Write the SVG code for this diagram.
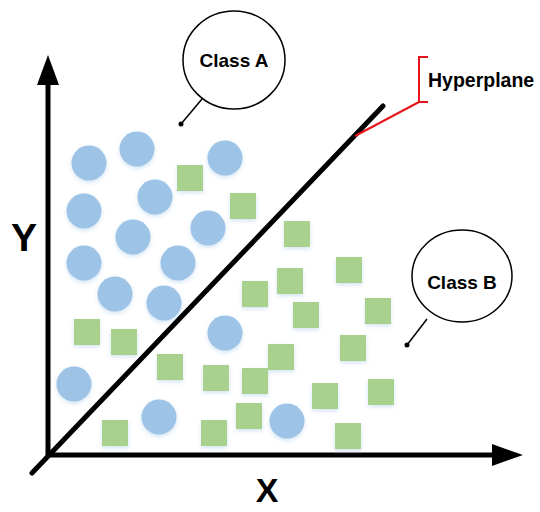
<svg xmlns="http://www.w3.org/2000/svg" width="540" height="512" viewBox="0 0 540 512">
  <defs>
    <filter id="glow" x="-30%" y="-30%" width="160%" height="170%">
      <feDropShadow dx="0" dy="2" stdDeviation="2" flood-color="#9DC3E6" flood-opacity="0.45"/>
    </filter>
  </defs>
  <style>
    .c { fill: #9DC3E6; }
    .s { fill: #A9D18E; }
    .axis { stroke: #000; stroke-width: 5; fill: none; }
    .lbl { font-family: "Liberation Sans", Arial, sans-serif; font-weight: bold; fill: #000; }
    .callout { fill: #fff; stroke: #000; stroke-width: 1.5; }
    .ptr { stroke: #000; stroke-width: 1.5; fill: none; }
    .red { stroke: #E8141B; stroke-width: 2; fill: none; }
  </style>
  <rect width="540" height="512" fill="#fff"/>

  <g id="axes">
    <line class="axis" x1="48" y1="456" x2="48" y2="82"/>
    <polygon points="48,55 37,85 59,85" fill="#000"/>
    <line class="axis" x1="46" y1="455" x2="495" y2="455"/>
    <polygon points="523,455 492,444 492,466" fill="#000"/>
    <text class="lbl" x="24" y="251" font-size="39" text-anchor="middle">Y</text>
    <text class="lbl" x="267" y="502" font-size="34" text-anchor="middle">X</text>
  </g>

  <g id="classA-points" filter="url(#glow)">
    <circle class="c" cx="89" cy="163" r="17.5"/>
    <circle class="c" cx="137" cy="149" r="17.5"/>
    <circle class="c" cx="225" cy="158" r="17.5"/>
    <circle class="c" cx="155" cy="197" r="17.5"/>
    <circle class="c" cx="84" cy="211" r="17.5"/>
    <circle class="c" cx="133" cy="237" r="17.5"/>
    <circle class="c" cx="208" cy="228" r="17.5"/>
    <circle class="c" cx="84" cy="263" r="17.5"/>
    <circle class="c" cx="178" cy="263" r="17.5"/>
    <circle class="c" cx="115" cy="294" r="17.5"/>
    <circle class="c" cx="164" cy="303" r="17.5"/>
    <circle class="c" cx="225" cy="333" r="17.5"/>
    <circle class="c" cx="74" cy="384" r="17.5"/>
    <circle class="c" cx="159" cy="417" r="17.5"/>
    <circle class="c" cx="287" cy="421" r="17.5"/>
  </g>

  <g id="classB-points" filter="url(#glow)">
    <rect class="s" x="177" y="165" width="26" height="26"/>
    <rect class="s" x="230" y="193" width="26" height="26"/>
    <rect class="s" x="284" y="221" width="26" height="26"/>
    <rect class="s" x="336" y="257" width="26" height="26"/>
    <rect class="s" x="277" y="268" width="26" height="26"/>
    <rect class="s" x="242" y="281" width="26" height="26"/>
    <rect class="s" x="293" y="302" width="26" height="26"/>
    <rect class="s" x="365" y="298" width="26" height="26"/>
    <rect class="s" x="340" y="335" width="26" height="26"/>
    <rect class="s" x="268" y="344" width="26" height="26"/>
    <rect class="s" x="242" y="368" width="26" height="26"/>
    <rect class="s" x="312" y="383" width="26" height="26"/>
    <rect class="s" x="368" y="379" width="26" height="26"/>
    <rect class="s" x="236" y="403" width="26" height="26"/>
    <rect class="s" x="201" y="420" width="26" height="26"/>
    <rect class="s" x="102" y="420" width="26" height="26"/>
    <rect class="s" x="335" y="423" width="26" height="26"/>
    <rect class="s" x="74" y="319" width="26" height="26"/>
    <rect class="s" x="111" y="329" width="26" height="26"/>
    <rect class="s" x="157" y="354" width="26" height="26"/>
    <rect class="s" x="203" y="365" width="26" height="26"/>
  </g>

  <g id="hyperplane">
    <line x1="32" y1="473" x2="383" y2="106" stroke="#000" stroke-width="5" stroke-linecap="round"/>
  </g>

  <g id="connectors">
    <line class="red" x1="355" y1="136" x2="419" y2="102"/>
    <line class="ptr" x1="181" y1="124" x2="202" y2="99"/>
    <line class="ptr" x1="407" y1="345" x2="427" y2="319"/>
  </g>

  <g id="hyperplane-label">
    <path class="red" d="M428,57 H419 V102 H428"/>
    <text class="lbl" x="428" y="87" font-size="19.5">Hyperplane</text>
  </g>

  <g id="classA-callout">
    <ellipse class="callout" cx="234" cy="60" rx="51" ry="49"/>
    <circle cx="181" cy="124" r="2.5" fill="#000"/>
    <text class="lbl" x="234" y="67" font-size="19" text-anchor="middle">Class A</text>
  </g>

  <g id="classB-callout">
    <ellipse class="callout" cx="462" cy="276" rx="50" ry="46"/>
    <circle cx="407" cy="345" r="2.5" fill="#000"/>
    <text class="lbl" x="462" y="289" font-size="19" text-anchor="middle">Class B</text>
  </g>
</svg>
